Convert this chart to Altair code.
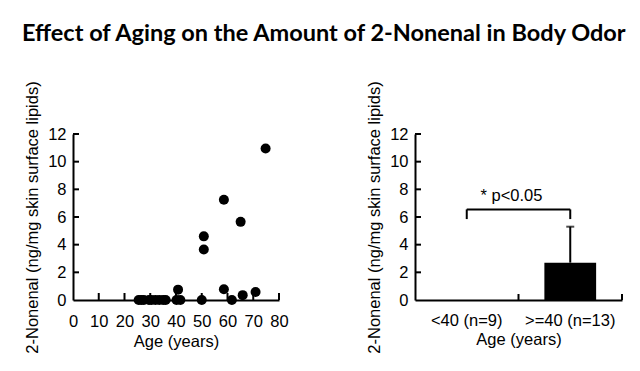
import altair as alt
import pandas as pd

# ---- data ----
ages = [25.5, 26.5, 27.5, 29.5, 30.5, 32.0, 33.5, 35.0, 36.0,
        40.2, 40.8, 41.7, 50.0, 50.8, 50.8, 58.6, 58.6, 61.7, 65.1, 65.9, 70.9, 74.8]
nonenal = [0, 0, 0, 0, 0, 0, 0, 0, 0,
           0, 0.75, 0, 0, 4.6, 3.65, 7.25, 0.78, 0, 5.65, 0.35, 0.58, 10.95]

groups = ["<40 (n=9)", ">=40 (n=13)"]
group_means = [0.0, 2.7]
group_upper = [0.0, 5.3]

bracket_top = 6.55
bracket_bottom = 5.85
sig_label = "* p<0.05"
sig_y = 7.15

y_axis_values = [0, 2, 4, 6, 8, 10, 12]
y_tick_marks = [2, 4, 6, 8, 10, 12]
x_axis_values = [0, 10, 20, 30, 40, 50, 60, 70, 80]
x_tick_marks = [10, 20, 30, 40, 50, 60, 70, 80]

TITLE = "Effect of Aging on the Amount of 2-Nonenal in Body Odor"
Y_TITLE = "2-Nonenal (ng/mg skin surface lipids)"
X_TITLE = "Age (years)"

W1, W2, H = 206, 207, 166
FONT = "Liberation Sans"
FS = 16.5
TICK = 6

common_axis = dict(
    grid=False, ticks=False, tickSize=0, domain=True, domainColor="black", domainWidth=2,
    labelFont=FONT, titleFont=FONT, labelFontSize=FS, titleFontSize=FS,
    labelColor="black", titleColor="black", titleFontWeight="normal",
    labelOverlap=False, labelFlush=False,
)

y_scale = alt.Scale(domain=[0, 12], nice=False)
y_axis = alt.Axis(values=y_axis_values, title=Y_TITLE, labelPadding=7, titlePadding=7, **common_axis)
x_scale_left = alt.Scale(domain=[0, 80], nice=False)
x_axis_left = alt.Axis(values=x_axis_values, title=X_TITLE, labelPadding=13, titlePadding=4,
                       labelAngle=0, **common_axis)

# ---- left: scatter ----
scatter_df = pd.DataFrame({"age": ages, "nonenal": nonenal})
xt_df = pd.DataFrame({"age": x_tick_marks})
yt_df = pd.DataFrame({"nonenal": y_tick_marks})

left_xticks = alt.Chart(xt_df).mark_rule(color="black", strokeWidth=2).encode(
    x=alt.X("age:Q", scale=x_scale_left, axis=x_axis_left),
    y=alt.value(H), y2=alt.value(H - TICK - 1),
)
left_yticks = alt.Chart(yt_df).mark_rule(color="black", strokeWidth=2).encode(
    y=alt.Y("nonenal:Q", scale=y_scale, axis=y_axis),
    x=alt.value(0), x2=alt.value(TICK),
)
points = alt.Chart(scatter_df).mark_circle(size=100, color="black", opacity=1).encode(
    x=alt.X("age:Q", scale=x_scale_left, axis=x_axis_left),
    y=alt.Y("nonenal:Q", scale=y_scale, axis=y_axis),
)
left = alt.layer(left_xticks, left_yticks, points).properties(width=W1, height=H)

# ---- right: bar chart ----
bar_df = pd.DataFrame({"group": groups, "nonenal": group_means, "upper": group_upper})
x_scale_right = alt.Scale(domain=groups, paddingInner=0, paddingOuter=0)
x_axis_right = alt.Axis(title=X_TITLE, labelAngle=0, labelPadding=12, titlePadding=3, **common_axis)
xr = alt.X("group:N", scale=x_scale_right, axis=x_axis_right)

bars = alt.Chart(bar_df).mark_bar(color="black", width=alt.RelativeBandSize(0.5)).encode(
    x=xr, y=alt.Y("nonenal:Q", scale=y_scale, axis=y_axis),
)
err = alt.Chart(bar_df).transform_filter("datum.upper > datum.nonenal").mark_rule(
    color="black", strokeWidth=2).encode(
    x=xr, y=alt.Y("nonenal:Q", scale=y_scale, axis=y_axis), y2="upper:Q",
)
cap = alt.Chart(bar_df).transform_filter("datum.upper > datum.nonenal").mark_tick(
    color="black", thickness=2, size=8, orient="horizontal").encode(
    x=xr, y=alt.Y("upper:Q", scale=y_scale, axis=y_axis),
)
right_xticks = alt.Chart(bar_df).mark_rule(color="black", strokeWidth=2).encode(
    x=alt.X("group:N", scale=x_scale_right, axis=x_axis_right, bandPosition=1),
    y=alt.value(H), y2=alt.value(H - TICK),
)
right_yticks = alt.Chart(yt_df).mark_rule(color="black", strokeWidth=2).encode(
    y=alt.Y("nonenal:Q", scale=y_scale, axis=y_axis),
    x=alt.value(0), x2=alt.value(TICK),
)
br_df = pd.DataFrame({"group": groups, "top": [bracket_top] * 2, "bottom": [bracket_bottom] * 2})
br_h = alt.Chart(pd.DataFrame({"g1": [groups[0]], "g2": [groups[1]], "y": [bracket_top]})).mark_rule(
    color="black", strokeWidth=2).encode(
    x=alt.X("g1:N", scale=x_scale_right, axis=x_axis_right, bandPosition=0.5),
    x2="g2:N",
    y=alt.Y("y:Q", scale=y_scale, axis=y_axis),
)
br_legs = alt.Chart(br_df).mark_rule(color="black", strokeWidth=2).encode(
    x=xr, y=alt.Y("top:Q", scale=y_scale, axis=y_axis), y2="bottom:Q",
)
sig = alt.Chart(pd.DataFrame({"g": [groups[1]], "y": [sig_y], "t": [sig_label]})).mark_text(
    font=FONT, fontSize=FS, color="black", align="center", baseline="alphabetic", dx=-7).encode(
    x=alt.X("g:N", scale=x_scale_right, axis=x_axis_right, bandPosition=0),
    y=alt.Y("y:Q", scale=y_scale, axis=y_axis),
    text="t:N",
)
right = alt.layer(right_xticks, right_yticks, bars, err, cap, br_h, br_legs, sig).properties(
    width=W2, height=H)

chart = alt.hconcat(left, right, spacing=77).properties(
    title=alt.TitleParams(TITLE, font="Lato", fontSize=23.5, fontWeight="bold", color="black",
                          anchor="middle", offset=35),
    padding={"left": 12, "top": 14, "right": 0, "bottom": 0},
).configure_view(stroke=None)

chart.save("out.html", embed_options={"renderer": "svg", "actions": False})
